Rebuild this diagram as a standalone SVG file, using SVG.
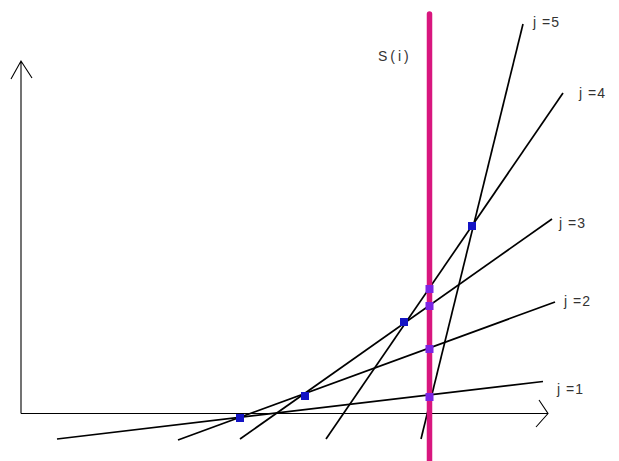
<svg xmlns="http://www.w3.org/2000/svg" width="619" height="461" viewBox="0 0 619 461">
<style>
.axis{stroke:#000;stroke-width:1.1;fill:none}
.ln{stroke:#000;stroke-width:1.7;fill:none}
.lbl{font-family:"Liberation Sans",Arial,sans-serif;font-size:14px;fill:#333}
.bsq{fill:#1414c4}
.psq{fill:#7a24e4}
</style>
<rect width="619" height="461" fill="#fff"/>
<g id="axes">
<path class="axis" d="M21,413.5 V61 M11,79 L21,61 L32,78"/>
<path class="axis" d="M21,413.5 H548 M539,400 L548,413.5 L536,427"/>
</g>
<g id="connectors">
<line id="j1" class="ln" x1="57" y1="439" x2="543" y2="381.5"/>
<line id="j2" class="ln" x1="178" y1="440" x2="555" y2="302"/>
<line id="j3" class="ln" x1="240" y1="439" x2="552" y2="219"/>
<line id="j4" class="ln" x1="326" y1="439" x2="563" y2="93"/>
<line id="j5" class="ln" x1="421" y1="439" x2="523" y2="24"/>
</g>
<g id="s-line">
<line x1="429.5" y1="14" x2="429.5" y2="461" stroke="#d8167e" stroke-width="5.5" stroke-linecap="round"/>
<text class="lbl" x="378" y="61" letter-spacing="3">S(i)</text>
</g>
<g id="points">
<rect class="bsq" x="236" y="414" width="8" height="8"/>
<rect class="bsq" x="301" y="392" width="8" height="8"/>
<rect class="bsq" x="400" y="318" width="8" height="8"/>
<rect class="bsq" x="468" y="222" width="8" height="8"/>
<rect class="psq" x="425.5" y="285" width="8" height="8"/>
<rect class="psq" x="425.5" y="302" width="8" height="8"/>
<rect class="psq" x="425.5" y="345" width="8" height="8"/>
<rect class="psq" x="425.5" y="393" width="8" height="8"/>
</g>
<g id="labels">
<text class="lbl" x="533" y="27" letter-spacing="1">j =5</text>
<text class="lbl" x="579" y="98" letter-spacing="1">j =4</text>
<text class="lbl" x="559" y="228" letter-spacing="1">j =3</text>
<text class="lbl" x="564" y="306" letter-spacing="1">j =2</text>
<text class="lbl" x="557" y="394" letter-spacing="1">j =1</text>
</g>
</svg>
